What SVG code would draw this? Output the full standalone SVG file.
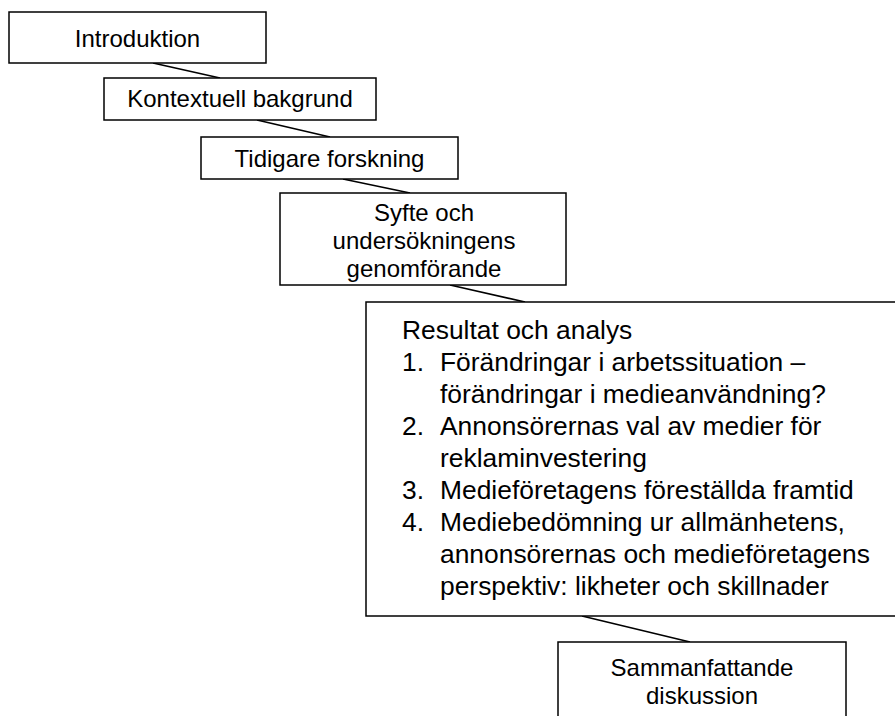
<svg xmlns="http://www.w3.org/2000/svg" width="895" height="716" viewBox="0 0 895 716">
<style>
.box{fill:#ffffff;stroke:#000000;stroke-width:1.5}
.conn{stroke:#000000;stroke-width:1.6;fill:none}
.t{font-family:"Liberation Sans",Arial,sans-serif;font-size:24px;fill:#000000}
.tc{text-anchor:middle}
.big{font-size:26.4px}
</style>
<rect x="0" y="0" width="895" height="716" fill="#ffffff"/>
<g id="connectors">
<line class="conn" x1="153" y1="63" x2="220" y2="78"/>
<line class="conn" x1="257" y1="120" x2="330" y2="137"/>
<line class="conn" x1="343" y1="179" x2="410" y2="193"/>
<line class="conn" x1="450" y1="285" x2="525" y2="302"/>
<line class="conn" x1="582" y1="616" x2="690" y2="642"/>
</g>
<g id="introduktion">
<rect class="box" x="9" y="12" width="257" height="51"/>
<text class="t tc" x="137.5" y="46.5">Introduktion</text>
</g>
<g id="kontextuell">
<rect class="box" x="104" y="78" width="272" height="42"/>
<text class="t tc" x="240" y="107">Kontextuell bakgrund</text>
</g>
<g id="tidigare">
<rect class="box" x="201" y="137" width="257" height="42"/>
<text class="t tc" x="329.5" y="166.5">Tidigare forskning</text>
</g>
<g id="syfte">
<rect class="box" x="280" y="193" width="286" height="92"/>
<text class="t tc" x="424" y="221">Syfte och</text>
<text class="t tc" x="424" y="249">undersökningens</text>
<text class="t tc" x="424" y="277">genomförande</text>
</g>
<g id="resultat">
<rect class="box" x="366" y="302" width="545" height="314"/>
<text class="t big" x="402" y="339">Resultat och analys</text>
<text class="t big" x="402" y="371">1.</text>
<text class="t big" x="440" y="371">Förändringar i arbetssituation –</text>
<text class="t big" x="440" y="403">förändringar i medieanvändning?</text>
<text class="t big" x="402" y="435">2.</text>
<text class="t big" x="440" y="435">Annonsörernas val av medier för</text>
<text class="t big" x="440" y="467">reklaminvestering</text>
<text class="t big" x="402" y="499">3.</text>
<text class="t big" x="440" y="499">Medieföretagens föreställda framtid</text>
<text class="t big" x="402" y="531">4.</text>
<text class="t big" x="440" y="531">Mediebedömning ur allmänhetens,</text>
<text class="t big" x="440" y="563">annonsörernas och medieföretagens</text>
<text class="t big" x="440" y="595">perspektiv: likheter och skillnader</text>
</g>
<g id="sammanfattande">
<rect class="box" x="558" y="642" width="288" height="100"/>
<text class="t tc" x="702" y="676">Sammanfattande</text>
<text class="t tc" x="702" y="704">diskussion</text>
</g>
</svg>
